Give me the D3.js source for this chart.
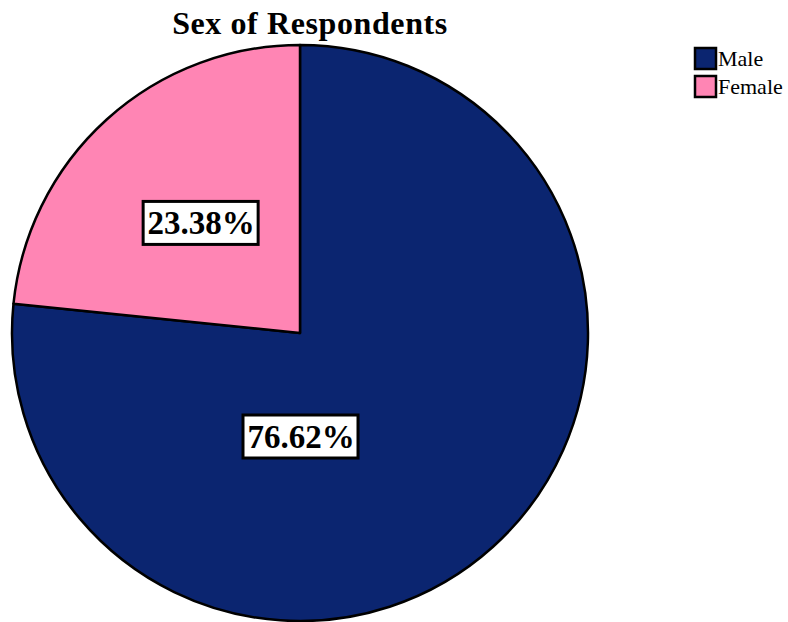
<!DOCTYPE html>
<html>
<head>
<meta charset="utf-8">
<script src="https://cdn.jsdelivr.net/npm/d3@7"></script>
<style>
  body { margin: 0; background: #fff; }
  text { font-family: "Liberation Serif", "Times New Roman", serif; }
</style>
</head>
<body>
<svg id="chart" width="788" height="622"></svg>
<script>
// data
var categories = ["Male", "Female"];
var percents = [76.62, 23.38];
var colors = ["#0b2570", "#ff85b4"];

var svg = d3.select("svg#chart");
var cx = 300, cy = 333, R = 288;

svg.append("text")
  .attr("x", 310).attr("y", 34)
  .attr("text-anchor", "middle")
  .attr("font-size", 32).attr("font-weight", "bold")
  .attr("letter-spacing", 0.6)
  .text("Sex of Respondents");

var pie = d3.pie().sort(null).value(d => d);
var arcs = pie(percents);
var arc = d3.arc().innerRadius(0).outerRadius(R);

var g = svg.append("g").attr("transform", "translate(" + cx + "," + cy + ")");

g.selectAll("path").data(arcs).enter()
  .append("path")
  .attr("d", arc)
  .attr("fill", (d, i) => colors[i])
  .attr("stroke", "#000")
  .attr("stroke-width", 2.5)
  .attr("stroke-linejoin", "round");

// label spots (SPSS puts them at its own places)
var labelR = [103, 149];
var labelA = [Math.PI, (arcs[1].startAngle + arcs[1].endAngle) / 2];

var labels = g.selectAll("g.lab").data(arcs).enter()
  .append("g").attr("class", "lab")
  .attr("transform", (d, i) => {
    var x = labelR[i] * Math.sin(labelA[i]);
    var y = -labelR[i] * Math.cos(labelA[i]);
    return "translate(" + x + "," + y + ")";
  });

labels.append("rect")
  .attr("x", -57).attr("y", -21)
  .attr("width", 115).attr("height", 43)
  .attr("fill", "#fff").attr("stroke", "#000").attr("stroke-width", 3);

labels.append("text")
  .attr("text-anchor", "middle")
  .attr("x", 1).attr("y", 12)
  .attr("font-size", 33).attr("font-weight", "bold")
  .text(d => d.data.toFixed(2) + "%");

// legend
var legend = svg.append("g").attr("transform", "translate(694,47)");
var items = legend.selectAll("g").data(categories).enter()
  .append("g")
  .attr("transform", (d, i) => "translate(0," + (i * 28) + ")");

items.append("rect")
  .attr("x", 1).attr("y", 1)
  .attr("width", 21).attr("height", 21)
  .attr("fill", (d, i) => colors[i])
  .attr("stroke", "#000").attr("stroke-width", 2.5);

items.append("text")
  .attr("x", 24).attr("y", 19)
  .attr("font-size", 22)
  .text(d => d);
</script>
</body>
</html>
